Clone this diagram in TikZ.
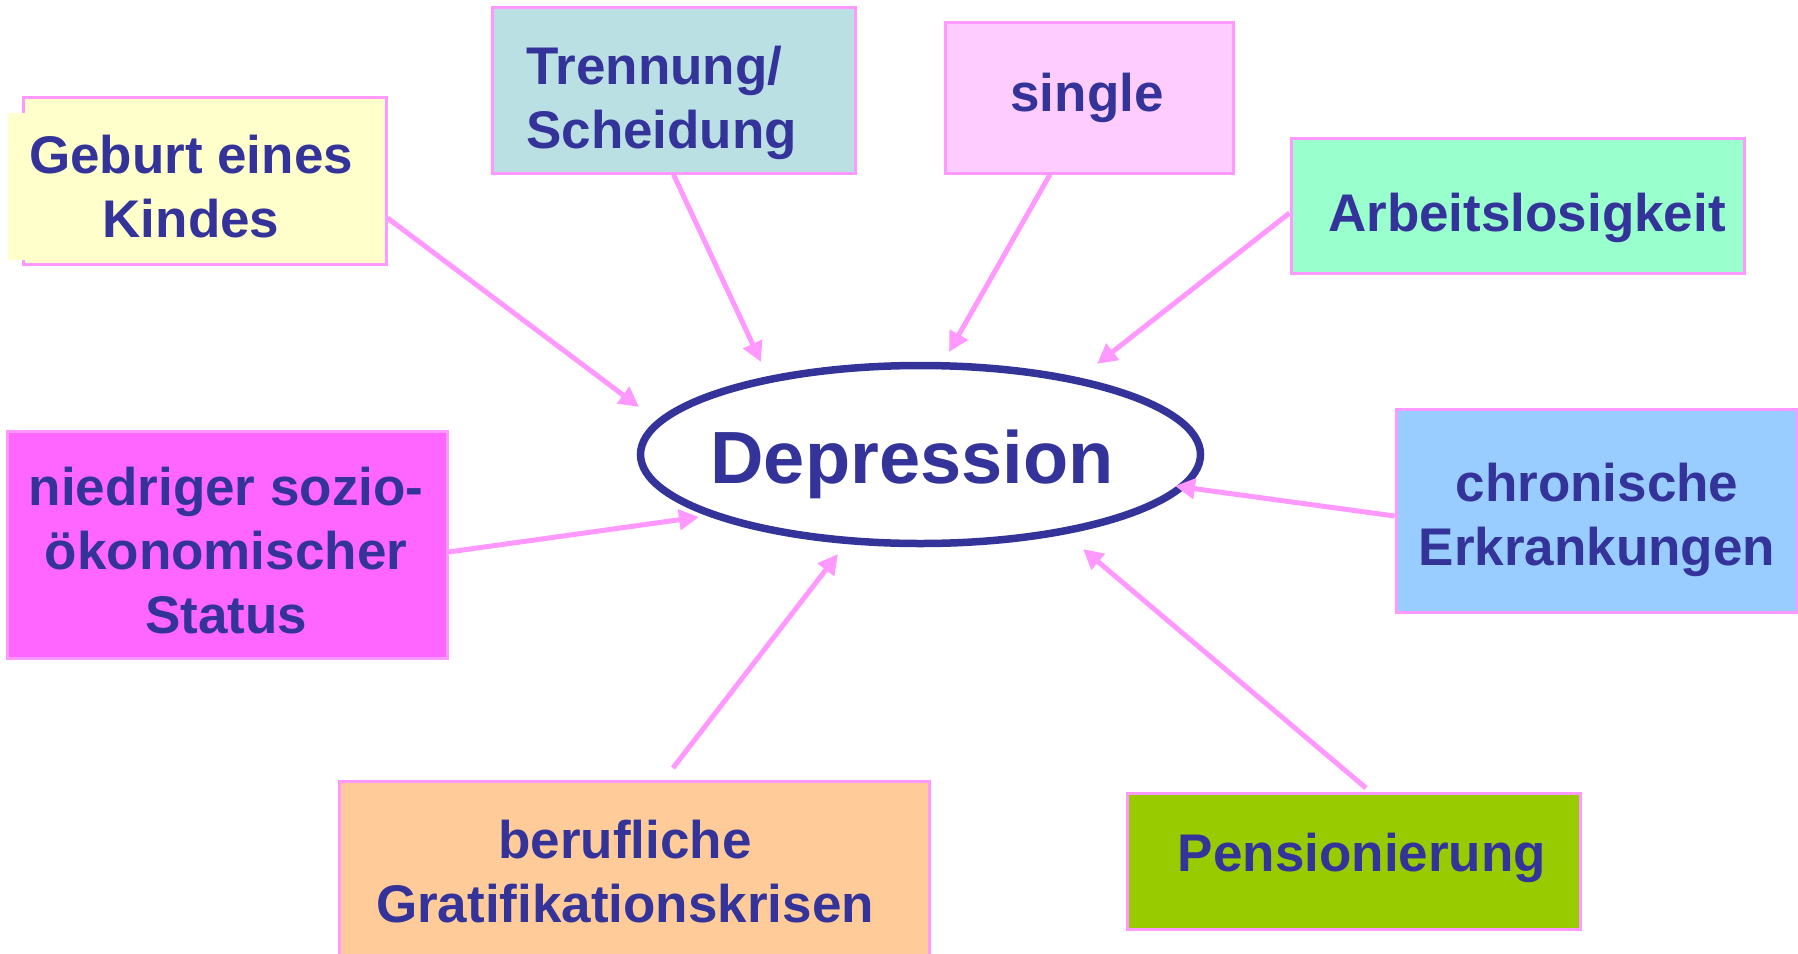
\documentclass[tikz,border=0pt]{standalone}
\usepackage{fontspec}
\setmainfont{Liberation Sans}
\usetikzlibrary{shapes.geometric,arrows.meta}
\definecolor{txtblue}{HTML}{333399}
\definecolor{pinkline}{HTML}{FF99FF}
\definecolor{cyel}{HTML}{FFFFCC}
\definecolor{cteal}{HTML}{BBE0E3}
\definecolor{cpink}{HTML}{FFCCFF}
\definecolor{cmint}{HTML}{99FFCC}
\definecolor{csky}{HTML}{99CCFF}
\definecolor{cmag}{HTML}{FF66FF}
\definecolor{cpeach}{HTML}{FFCC99}
\definecolor{cgreen}{HTML}{99CC00}
\begin{document}
\begin{tikzpicture}[x=1pt,y=-1pt,
  box/.style={draw=pinkline, line width=3pt, rectangle, inner sep=0pt},
  lbl/.style={text=txtblue, font=\bfseries\fontsize{53}{64}\selectfont, inner sep=0pt, align=center},
  arr/.style={draw=pinkline, line width=5pt, -{Triangle[length=20pt,width=20pt]}},
  depnode/.style={draw=txtblue, line width=7.5pt, ellipse, inner sep=0pt, fill=white}
]
\useasboundingbox (0,0) rectangle (1798,953);
\fill[white] (0,0) rectangle (1798,953);

% ellipse
\node[depnode, minimum width=560pt, minimum height=178pt] (dep) at (920.5,454.5) {};

% arrow targets / free ends
\coordinate (e1) at (639,407);
\coordinate (e2) at (761,362);
\coordinate (e3) at (949,352);
\coordinate (e4) at (1097,364);
\coordinate (e5) at (1175,486);
\coordinate (e6) at (699,517);
\coordinate (e7) at (838,554);
\coordinate (e8) at (1083,549);
\coordinate (s7) at (673,768);
\coordinate (s8) at (1366,788);

% boxes
\node[box, fill=cyel, minimum width=363pt, minimum height=167pt] (geburt) at (204.5,180.5) {};
\fill[cyel] (8,113) rectangle (30,260);
\node[box, fill=cteal, minimum width=363pt, minimum height=166pt] (trennung) at (673.5,90) {};
\node[box, fill=cpink, minimum width=288pt, minimum height=151pt] (single) at (1089,97.5) {};
\node[box, fill=cmint, minimum width=453pt, minimum height=135pt] (arbeit) at (1517.5,205.5) {};
\node[box, fill=csky, minimum width=401pt, minimum height=203pt] (chron) at (1596.5,510.5) {};
\node[box, fill=cmag, minimum width=440pt, minimum height=227pt] (niedr) at (227,544.5) {};
\node[box, fill=cpeach, minimum width=590pt, minimum height=179pt] (beruf) at (634.5,870.5) {};
\node[box, fill=cgreen, minimum width=453pt, minimum height=136pt] (pens) at (1353.5,861) {};

% arrows
\draw[arr] (geburt.east |- 0,218) -- (e1);
\draw[arr] (trennung.south) -- (e2);
\draw[arr] (single.south -| 1050,0) -- (e3);
\draw[arr] (arbeit.west |- 0,213) -- (e4);
\draw[arr] (chron.west |- 0,516) -- (e5);
\draw[arr] (niedr.east |- 0,552) -- (e6);
\draw[arr] (s7) -- (e7);
\draw[arr] (s8) -- (e8);

% texts (anchor base = baseline of last line)
\node[lbl, anchor=base] (tgeburt) at (191,237) {Geburt eines\\Kindes};
\node[lbl, anchor=base west, align=left] (ttrenn) at (526,148) {Trennung/\\Scheidung};
\node[lbl, anchor=base] (tsingle) at (1087,111) {single};
\node[lbl, anchor=base] (tarbeit) at (1527,231) {Arbeitslosigkeit};
\node[lbl, anchor=base] (tchron) at (1597,565) {chronische\\Erkrankungen};
\node[lbl, anchor=base] (tniedr) at (226,633) {niedriger sozio-\\ökonomischer\hspace*{14pt}\\Status};
\node[lbl, anchor=base] (tberuf) at (625,922) {berufliche\\Gratifikationskrisen};
\node[lbl, anchor=base] (tpens) at (1362,871) {Pensionierung};
\node[text=txtblue, font=\bfseries\fontsize{74}{88}\selectfont, inner sep=0pt, anchor=base] (tdep) at (912,483) {Depression};
\end{tikzpicture}
\end{document}
